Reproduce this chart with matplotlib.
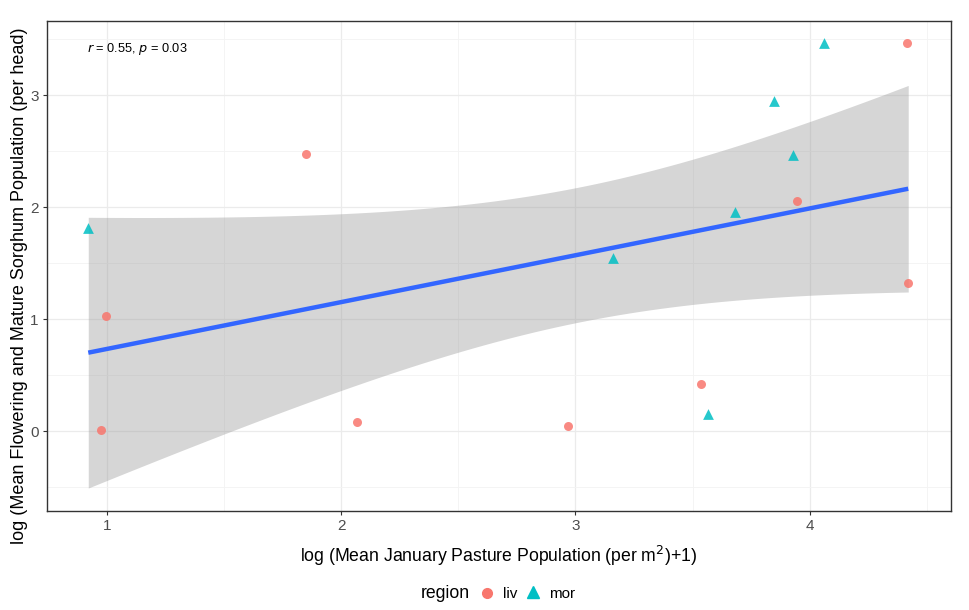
import numpy as np
import matplotlib
matplotlib.use("Agg")
import matplotlib.pyplot as plt

plt.rcParams['font.family'] = ['Liberation Sans', 'DejaVu Sans']

# data
liv_x = [0.996, 0.974, 1.848, 2.067, 2.969, 3.535, 3.946, 4.414, 4.421]
liv_y = [1.032, 0.009, 2.476, 0.086, 0.045, 0.425, 2.056, 3.464, 1.327]
mor_x = [0.920, 3.159, 3.682, 3.930, 3.849, 4.062, 3.565]
mor_y = [1.818, 1.545, 1.958, 2.467, 2.952, 3.464, 0.157]
regions = ['liv', 'mor']
colors = {'liv': '#F8766D', 'mor': '#00BFC4'}
xticks = [1, 2, 3, 4]
yticks = [0, 1, 2, 3]
annot_r = "0.55"
annot_p = "0.03"
xlabel = r"log (Mean January Pasture Population (per m$^2$)+1)"
ylabel = "log (Mean Flowering and Mature Sorghum Population (per head)"

fig = plt.figure(figsize=(9.7, 6.1), dpi=100)
ax = fig.add_axes([0.0485, 0.163, 0.9315, 0.803])

# linear fit with 95% CI
x = np.array(liv_x + mor_x)
y = np.array(liv_y + mor_y)
n = len(x)
b1, b0 = np.polyfit(x, y, 1)
xs = np.linspace(x.min(), x.max(), 80)
ys = b0 + b1 * xs
resid = y - (b0 + b1 * x)
s = np.sqrt(np.sum(resid**2) / (n - 2))
tq = 2.144787  # t(0.975, 14)
se = s * np.sqrt(1 / n + (xs - x.mean())**2 / np.sum((x - x.mean())**2))
ax.fill_between(xs, ys - tq * se, ys + tq * se, color='#999999', alpha=0.4,
                linewidth=0, zorder=2)

ax.scatter(liv_x, liv_y, s=42, marker='o', color=colors['liv'], alpha=0.85,
           linewidths=0, zorder=3)
ax.scatter(mor_x, mor_y, s=60, marker='^', color=colors['mor'], alpha=0.85,
           linewidths=0, zorder=3)
ax.plot(xs, ys, color='#3366FF', lw=3.2, zorder=4, solid_capstyle='butt')

ax.set_xlim(0.744, 4.602)
ax.set_ylim(-0.709, 3.666)
ax.set_xticks(xticks)
ax.set_yticks(yticks)
ax.set_xticks([1.5, 2.5, 3.5, 4.5], minor=True)
ax.set_yticks([-0.5, 0.5, 1.5, 2.5, 3.5], minor=True)
ax.grid(which='major', color='#EBEBEB', lw=0.9, zorder=0)
ax.grid(which='minor', color='#F3F3F3', lw=0.6, zorder=0)
ax.set_axisbelow(True)
for sp in ax.spines.values():
    sp.set_color('#333333')
    sp.set_linewidth(1.0)
ax.tick_params(which='major', length=3, color='#333333', labelsize=11,
               labelcolor='#4D4D4D', pad=3)
ax.tick_params(which='minor', length=0)

ax.set_xlabel(xlabel, fontsize=12.7, labelpad=8)
fig.text(20 / 970, 1 - 286 / 610, ylabel, fontsize=13, rotation=90,
         ha='center', va='center')

ax.text(0.915, 3.41, r"$\it{r}$ = " + annot_r + r", $\it{p}$ = " + annot_p,
        fontsize=9.2, ha='left', va='center', color='black')

# legend (bottom, horizontal, title on the left)
ly = 594 / 610
fig.text(421 / 970, 1 - ly, 'region', fontsize=12.7, ha='left', va='center')
fig.lines.append(plt.Line2D([487 / 970], [1 - ly + 0.002], marker='o', ls='',
                            color=colors['liv'], markersize=7, transform=fig.transFigure))
fig.text(503 / 970, 1 - ly, regions[0], fontsize=11, ha='left', va='center')
fig.lines.append(plt.Line2D([533 / 970], [1 - ly + 0.003], marker='^', ls='',
                            color=colors['mor'], markersize=8, transform=fig.transFigure))
fig.text(549 / 970, 1 - ly, regions[1], fontsize=11, ha='left', va='center')

fig.savefig('out.png', dpi=100)
